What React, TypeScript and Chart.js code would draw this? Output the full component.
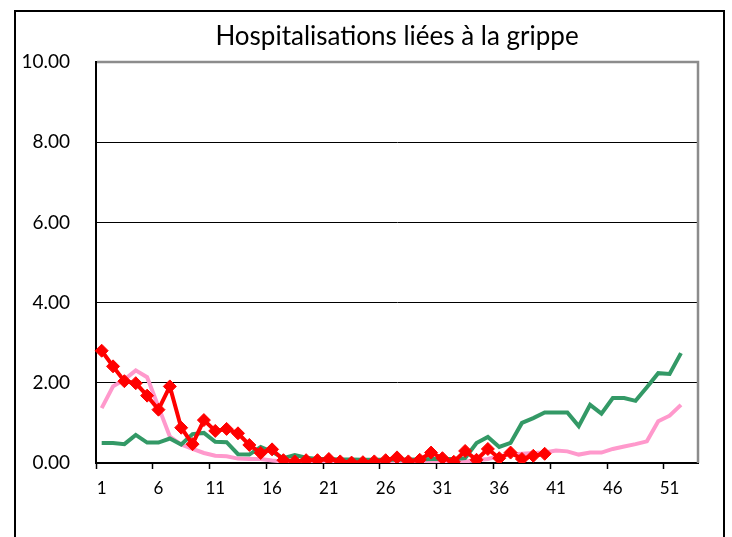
import React, { useEffect, useRef } from "react";
import { Chart, registerables } from "chart.js";

Chart.register(...registerables);

const TITLE = "Hospitalisations liées à la grippe";

const weeks = [
  "1", "2", "3", "4", "5", "6", "7", "8", "9", "10",
  "11", "12", "13", "14", "15", "16", "17", "18", "19", "20",
  "21", "22", "23", "24", "25", "26", "27", "28", "29", "30",
  "31", "32", "33", "34", "35", "36", "37", "38", "39", "40",
  "41", "42", "43", "44", "45", "46", "47", "48", "49", "50",
  "51", "52", "53",
];

const currentSeason = [
  2.8, 2.41, 2.04, 1.99, 1.68, 1.33, 1.91, 0.88, 0.47, 1.07,
  0.8, 0.85, 0.74, 0.45, 0.25, 0.34, 0.07, 0.04, 0.07, 0.07,
  0.1, 0.04, 0.01, 0.02, 0.04, 0.07, 0.14, 0.04, 0.08, 0.26,
  0.12, 0.03, 0.3, 0.08, 0.35, 0.12, 0.26, 0.1, 0.18, 0.23,
];

const greenSeason = [
  0.5, 0.5, 0.47, 0.7, 0.51, 0.51, 0.61, 0.46, 0.72, 0.75,
  0.53, 0.52, 0.22, 0.21, 0.4, 0.28, 0.12, 0.2, 0.13, 0.1,
  0.1, 0.09, 0.09, 0.08, 0.08, 0.08, 0.08, 0.09, 0.09, 0.1,
  0.1, 0.1, 0.12, 0.5, 0.65, 0.4, 0.5, 1.0, 1.12, 1.26,
  1.26, 1.26, 0.92, 1.45, 1.23, 1.62, 1.62, 1.55, 1.89, 2.24,
  2.22, 2.74,
];

const pinkSeason = [
  1.37, 1.91, 2.08, 2.31, 2.14, 1.4, 0.66, 0.46, 0.35, 0.25,
  0.18, 0.17, 0.11, 0.1, 0.1, 0.06, 0.04, 0.03, 0.03, 0.03,
  0.03, 0.03, 0.03, 0.03, 0.03, 0.03, 0.03, 0.03, 0.04, 0.04,
  0.04, 0.04, 0.04, 0.07, 0.1, 0.17, 0.21, 0.23, 0.25, 0.26,
  0.31, 0.29, 0.21, 0.26, 0.26, 0.35, 0.41, 0.47, 0.54, 1.04,
  1.18, 1.45,
];

const yTicks = [0, 2, 4, 6, 8, 10];

const FONT = "Lato, 'Open Sans', sans-serif";

const frame = {
  id: "frame",
  afterDraw(chart: any) {
    const { ctx, chartArea } = chart;
    ctx.save();
    ctx.strokeStyle = "#8c8c8c";
    ctx.lineWidth = 2.5;
    ctx.beginPath();
    ctx.moveTo(chartArea.left + 1, chartArea.top);
    ctx.lineTo(chartArea.right, chartArea.top);
    ctx.lineTo(chartArea.right, chartArea.bottom);
    ctx.stroke();
    ctx.restore();
  },
};

export default function App() {
  const ref = useRef<HTMLCanvasElement>(null);

  useEffect(() => {
    if (!ref.current) return;
    const chart = new Chart(ref.current, {
      type: "line",
      data: {
        labels: weeks,
        datasets: [
          {
            data: currentSeason,
            borderColor: "#ff0000",
            backgroundColor: "#ff0000",
            borderWidth: 4,
            pointStyle: "rectRot",
            pointRadius: 6.5,
            pointBorderWidth: 1,
            tension: 0,
          },
          {
            data: greenSeason,
            borderColor: "#339966",
            borderWidth: 4,
            pointRadius: 0,
            tension: 0,
          },
          {
            data: pinkSeason,
            borderColor: "#ff99cc",
            borderWidth: 4,
            pointRadius: 0,
            tension: 0,
          },
        ],
      },
      options: {
        animation: false,
        responsive: true,
        maintainAspectRatio: false,
        layout: { padding: { left: 0, right: 34, top: 0, bottom: 0 } },
        plugins: {
          legend: { display: false },
          tooltip: { enabled: false },
          title: {
            display: true,
            text: TITLE,
            fullSize: false,
            color: "#000",
            font: { family: FONT, size: 26, weight: "normal" },
            padding: { top: 21, bottom: 9.8 },
          },
        },
        scales: {
          x: {
            type: "category",
            offset: true,
            afterFit: (s: any) => {
              s.height = 74;
            },
            border: { color: "#000", width: 2 },
            grid: {
              offset: true,
              drawOnChartArea: false,
              drawTicks: true,
              tickLength: 6,
              tickWidth: 1.5,
              tickColor: (c: any) => (c.index % 5 === 0 ? "#000" : "rgba(0,0,0,0)"),
            },
            ticks: {
              autoSkip: false,
              maxRotation: 0,
              minRotation: 0,
              padding: 9,
              color: "#000",
              font: { family: FONT, size: 17 },
              callback: (_v: any, i: number) => (i % 5 === 0 ? weeks[i] : ""),
            },
          },
          y: {
            min: 0,
            max: 10,
            afterFit: (s: any) => {
              s.width = 96;
            },
            afterBuildTicks: (s: any) => {
              s.ticks = yTicks.map((v) => ({ value: v }));
            },
            border: { color: "#000", width: 2 },
            grid: {
              drawTicks: false,
              color: (c: any) =>
                c.tick && (c.tick.value === 0 || c.tick.value === 10) ? "rgba(0,0,0,0)" : "#000",
              lineWidth: 1,
            },
            ticks: {
              padding: 26,
              color: "#000",
              font: { family: FONT, size: 19 },
              callback: (v: any) => Number(v).toFixed(2),
            },
          },
        },
      },
      plugins: [frame],
    });
    return () => chart.destroy();
  }, []);

  return (
    <div
      style={{
        position: "fixed",
        left: 0,
        top: 0,
        width: 732,
        height: 537,
        background: "#fff",
        overflow: "hidden",
      }}
    >
      <div
        style={{
          position: "absolute",
          left: 14,
          top: 10,
          width: 707,
          height: 600,
          border: "2px solid #000",
        }}
      />
      <div style={{ position: "absolute", left: 0, top: 0, width: 732, height: 537 }}>
        <canvas ref={ref} />
      </div>
    </div>
  );
}
